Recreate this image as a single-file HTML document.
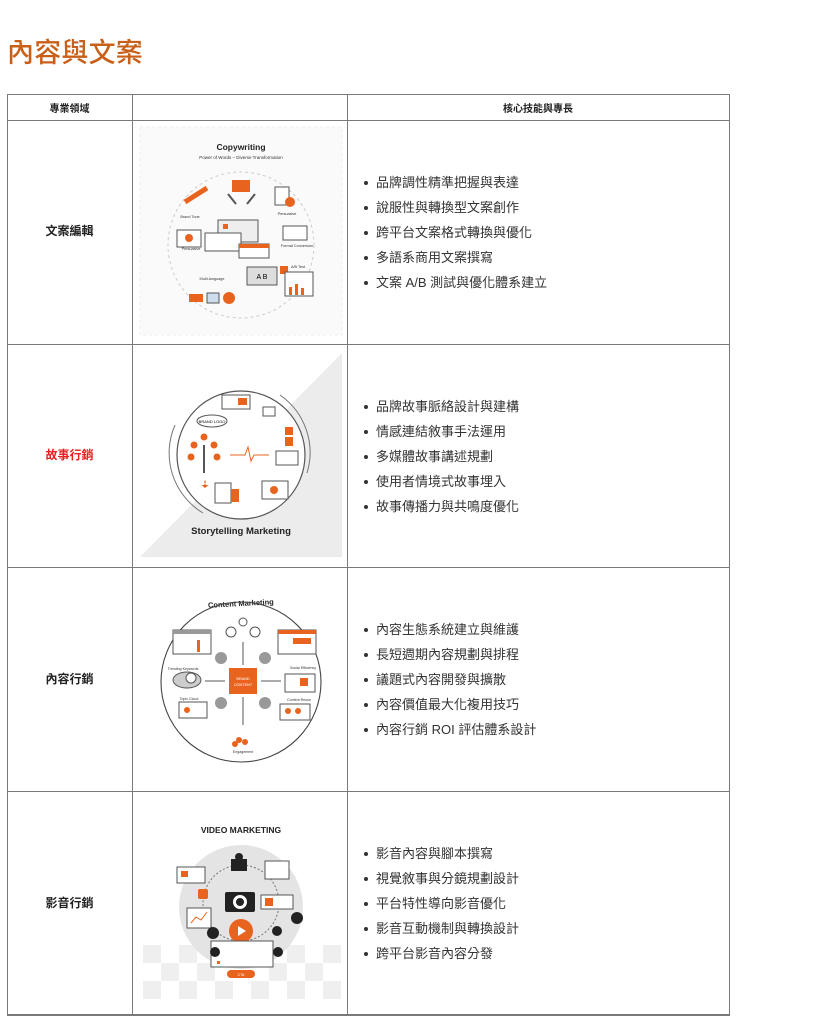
<!DOCTYPE html>
<html><head><meta charset="utf-8">
<style>
*{margin:0;padding:0;box-sizing:border-box}
body{width:820px;height:1024px;background:#fff;position:relative;overflow:hidden;font-family:"Liberation Sans","Noto Sans CJK TC",sans-serif;color:#222}
.t{position:absolute;left:7px;top:31px;font-size:27px;color:#c8601a;font-family:"Liberation Sans","Noto Sans CJK TC",sans-serif;font-weight:500;letter-spacing:0.2px}
.h{position:absolute;background:#7a7a7a}
.lbl{position:absolute;left:7px;width:125px;text-align:center;font-size:12px;font-weight:bold}
.hd{position:absolute;top:100px;font-size:10px;font-weight:bold;text-align:center}
ul{position:absolute;left:362px;list-style:none;font-size:13px;color:#333}
ul li{height:25px;line-height:18px;position:relative;padding-left:14px}
ul li:before{content:"";position:absolute;left:2px;top:7px;width:4px;height:4px;border-radius:50%;background:#333}
svg{position:absolute}
svg text{font-family:"Liberation Sans",sans-serif}
</style></head><body>
<div class="t">內容與文案</div>

<div class="h" style="left:7px;top:94px;width:723px;height:1px"></div>
<div class="h" style="left:7px;top:120px;width:723px;height:1px"></div>
<div class="h" style="left:7px;top:344px;width:723px;height:1px"></div>
<div class="h" style="left:7px;top:567px;width:723px;height:1px"></div>
<div class="h" style="left:7px;top:791px;width:723px;height:1px"></div>
<div class="h" style="left:7px;top:1014px;width:723px;height:2px"></div>
<div class="h" style="left:7px;top:94px;width:1px;height:921px"></div>
<div class="h" style="left:132px;top:94px;width:1px;height:921px"></div>
<div class="h" style="left:347px;top:94px;width:1px;height:921px"></div>
<div class="h" style="left:729px;top:94px;width:1px;height:921px"></div>

<div class="hd" style="left:7px;width:125px">專業領域</div>
<div class="hd" style="left:347px;width:382px">核心技能與專長</div>

<div class="lbl" style="top:222px">文案編輯</div>
<div class="lbl" style="top:446px;color:#e8201e">故事行銷</div>
<div class="lbl" style="top:670px">內容行銷</div>
<div class="lbl" style="top:894px">影音行銷</div>

<ul style="top:174px"><li>品牌調性精準把握與表達</li><li>說服性與轉換型文案創作</li><li>跨平台文案格式轉換與優化</li><li>多語系商用文案撰寫</li><li>文案 A/B 測試與優化體系建立</li></ul>
<ul style="top:398px"><li>品牌故事脈絡設計與建構</li><li>情感連結敘事手法運用</li><li>多媒體故事講述規劃</li><li>使用者情境式故事埋入</li><li>故事傳播力與共鳴度優化</li></ul>
<ul style="top:621px"><li>內容生態系統建立與維護</li><li>長短週期內容規劃與排程</li><li>議題式內容開發與擴散</li><li>內容價值最大化複用技巧</li><li>內容行銷 ROI 評估體系設計</li></ul>
<ul style="top:845px"><li>影音內容與腳本撰寫</li><li>視覺敘事與分鏡規劃設計</li><li>平台特性導向影音優化</li><li>影音互動機制與轉換設計</li><li>跨平台影音內容分發</li></ul>

<svg style="left:135px;top:122px" width="212" height="222" viewBox="0 0 212 222">
<rect x="5" y="5" width="202" height="208" fill="#fafafa" stroke="#eee" stroke-dasharray="3 3"/>
<text x="106" y="28" font-size="8.5" font-weight="bold" text-anchor="middle" fill="#222">Copywriting</text>
<text x="106" y="37" font-size="4.5" text-anchor="middle" fill="#333">Power of Words – Diverse Transformation</text>
<circle cx="106" cy="123" r="73" fill="none" stroke="#ccc" stroke-dasharray="3 3"/>
<rect x="97" y="58" width="18" height="12" fill="#e8641e"/>
<path d="M93 72 l8 10 M120 72 l-8 10" stroke="#555" stroke-width="2"/>
<path d="M50 80 l22 -14" stroke="#e8641e" stroke-width="5"/>
<rect x="140" y="65" width="14" height="18" fill="#fff" stroke="#555"/><circle cx="155" cy="80" r="5" fill="#e8641e"/>
<rect x="83" y="98" width="40" height="22" fill="#eee" stroke="#555"/><rect x="88" y="102" width="5" height="5" fill="#e8641e"/>
<rect x="70" y="111" width="36" height="18" fill="#fff" stroke="#555"/>
<rect x="104" y="122" width="30" height="14" fill="#fff" stroke="#555"/><rect x="104" y="122" width="30" height="4" fill="#e8641e"/>
<rect x="42" y="108" width="24" height="17" fill="#fff" stroke="#555"/><circle cx="54" cy="116" r="4" fill="#e8641e"/>
<rect x="148" y="104" width="24" height="14" fill="#fff" stroke="#555"/>
<rect x="112" y="145" width="30" height="18" fill="#ddd" stroke="#555"/><text x="127" y="157" font-size="7" text-anchor="middle">A  B</text>
<rect x="145" y="144" width="8" height="8" fill="#e8641e"/>
<rect x="150" y="150" width="28" height="24" fill="#fff" stroke="#555"/>
<rect x="154" y="165" width="3" height="8" fill="#e8641e"/><rect x="160" y="162" width="3" height="11" fill="#e8641e"/><rect x="166" y="166" width="3" height="7" fill="#e8641e"/>
<rect x="54" y="172" width="14" height="8" fill="#e8641e"/><rect x="72" y="171" width="12" height="10" fill="#cde" stroke="#555"/><circle cx="94" cy="176" r="6" fill="#e8641e"/>
<g font-size="3.8" fill="#333" text-anchor="middle"><text x="55" y="96">Brand Tone</text><text x="56" y="128">Persuasive</text><text x="152" y="93">Persuasive</text><text x="162" y="125">Format Conversion</text><text x="77" y="158">Multi-language</text><text x="163" y="146">A/B Test</text></g>
</svg>

<svg style="left:135px;top:345px" width="212" height="222" viewBox="0 0 212 222">
<polygon points="5,212 207,8 207,212" fill="#ececec"/>
<circle cx="106" cy="110" r="64" fill="#fff" stroke="#555" stroke-width="1.2"/>
<path d="M40 80 A70 70 0 0 0 68 168 M145 50 A70 70 0 0 1 172 128" fill="none" stroke="#777"/>
<rect x="87" y="50" width="28" height="14" fill="#fff" stroke="#555"/><rect x="103" y="53" width="9" height="7" fill="#e8641e"/>
<ellipse cx="77" cy="76" rx="15" ry="6" fill="#fff" stroke="#555"/><text x="77" y="78" font-size="4" text-anchor="middle">BRAND LOGO</text>
<line x1="69" y1="128" x2="69" y2="100" stroke="#555" stroke-width="2"/>
<g fill="#e8641e"><circle cx="69" cy="92" r="3.5"/><circle cx="59" cy="100" r="3.5"/><circle cx="79" cy="100" r="3.5"/><circle cx="56" cy="112" r="3.5"/><circle cx="82" cy="112" r="3.5"/></g>
<path d="M95 110 h15 l3 -8 l3 14 l3 -6 h15" fill="none" stroke="#e8641e"/>
<rect x="128" y="62" width="12" height="9" fill="#fff" stroke="#555"/><rect x="150" y="82" width="8" height="8" fill="#e8641e"/><rect x="150" y="92" width="8" height="9" fill="#e8641e"/>
<rect x="141" y="106" width="22" height="14" fill="#fff" stroke="#555"/>
<path d="M70 140 l5 -4 a3 3 0 0 1 -5 -4 a3 3 0 0 1 -5 4 z" fill="#e8641e" transform="translate(0,3)"/>
<rect x="80" y="138" width="16" height="20" fill="#fff" stroke="#555"/><rect x="96" y="144" width="8" height="13" fill="#e8641e"/>
<rect x="127" y="136" width="26" height="18" fill="#fff" stroke="#555"/><circle cx="139" cy="145" r="4" fill="#e8641e"/>
<text x="106" y="189" font-size="9.5" font-weight="bold" text-anchor="middle" fill="#222">Storytelling Marketing</text>
</svg>

<svg style="left:135px;top:570px" width="212" height="220" viewBox="0 0 212 220">
<text x="106" y="36" font-size="7.5" font-weight="bold" text-anchor="middle" fill="#222" transform="rotate(-3 106 36)">Content Marketing</text>
<circle cx="106" cy="112" r="80" fill="none" stroke="#444" stroke-width="1.1"/>
<rect x="94" y="98" width="28" height="26" fill="#e8641e"/>
<text x="108" y="110" font-size="3.8" text-anchor="middle" fill="#fff">BRAND</text><text x="108" y="116" font-size="3.8" text-anchor="middle" fill="#fff">CONTENT</text>
<g stroke="#555" fill="none"><line x1="108" y1="95" x2="108" y2="72"/><line x1="108" y1="127" x2="108" y2="155"/><line x1="90" y1="111" x2="70" y2="111"/><line x1="126" y1="111" x2="146" y2="111"/></g>
<g fill="#999"><circle cx="86" cy="88" r="6"/><circle cx="130" cy="88" r="6"/><circle cx="86" cy="133" r="6"/><circle cx="130" cy="133" r="6"/></g>
<rect x="38" y="60" width="38" height="24" fill="#fff" stroke="#555"/><rect x="38" y="60" width="38" height="4" fill="#999"/><rect x="62" y="70" width="3" height="12" fill="#e8641e"/>
<rect x="143" y="60" width="38" height="24" fill="#fff" stroke="#555"/><rect x="143" y="60" width="38" height="4" fill="#e8641e"/><rect x="158" y="68" width="18" height="6" fill="#e8641e"/>
<ellipse cx="52" cy="110" rx="14" ry="8" fill="#ccc" stroke="#555"/><circle cx="56" cy="108" r="5" fill="#fff" stroke="#555"/>
<rect x="150" y="104" width="30" height="18" fill="#fff" stroke="#555"/><rect x="165" y="108" width="8" height="8" fill="#e8641e"/>
<rect x="44" y="132" width="28" height="16" fill="#fff" stroke="#555"/><circle cx="52" cy="140" r="3" fill="#e8641e"/>
<rect x="145" y="134" width="30" height="16" fill="#fff" stroke="#555"/><circle cx="153" cy="141" r="3" fill="#e8641e"/><circle cx="163" cy="141" r="3" fill="#e8641e"/>
<g fill="#e8641e"><circle cx="104" cy="170" r="3"/><circle cx="110" cy="172" r="3"/><circle cx="100" cy="174" r="3"/></g>
<circle cx="108" cy="52" r="4" fill="none" stroke="#555"/><circle cx="96" cy="62" r="5" fill="none" stroke="#555"/><circle cx="120" cy="62" r="5" fill="none" stroke="#555"/>
<g font-size="3.6" fill="#333" text-anchor="middle"><text x="48" y="100">Trending Keywords</text><text x="168" y="99">Social Efficiency</text><text x="54" y="130">Topic Cloud</text><text x="164" y="131">Content Reuse</text><text x="108" y="183">Engagement</text></g>
</svg>

<svg style="left:135px;top:795px" width="212" height="220" viewBox="0 0 212 220">
<g fill="#efefef">
<rect x="8" y="150" width="18" height="18"/><rect x="44" y="150" width="18" height="18"/><rect x="80" y="150" width="18" height="18"/><rect x="152" y="150" width="18" height="18"/><rect x="188" y="150" width="18" height="18"/>
<rect x="26" y="168" width="18" height="18"/><rect x="62" y="168" width="18" height="18"/><rect x="134" y="168" width="18" height="18"/><rect x="170" y="168" width="18" height="18"/>
<rect x="8" y="186" width="18" height="18"/><rect x="44" y="186" width="18" height="18"/><rect x="80" y="186" width="18" height="18"/><rect x="116" y="186" width="18" height="18"/><rect x="152" y="186" width="18" height="18"/><rect x="188" y="186" width="18" height="18"/>
</g>
<text x="106" y="38" font-size="8.5" font-weight="bold" text-anchor="middle" fill="#222">VIDEO MARKETING</text>
<circle cx="106" cy="112" r="62" fill="#e4e4e4"/>
<circle cx="106" cy="108" r="38" fill="none" stroke="#777" stroke-dasharray="2 2"/>
<rect x="96" y="64" width="16" height="12" fill="#222"/><circle cx="104" cy="62" r="4" fill="#222"/>
<rect x="90" y="97" width="30" height="20" rx="2" fill="#222"/><circle cx="105" cy="107" r="7" fill="#fff"/><circle cx="105" cy="107" r="4" fill="#222"/>
<circle cx="106" cy="136" r="12" fill="#e8641e"/><polygon points="103,131 103,141 111,136" fill="#fff"/>
<rect x="76" y="146" width="62" height="26" fill="#fff" stroke="#555"/><rect x="82" y="166" width="3" height="3" fill="#e8641e"/>
<rect x="42" y="72" width="28" height="16" fill="#fff" stroke="#555"/><rect x="46" y="76" width="7" height="6" fill="#e8641e"/>
<rect x="63" y="94" width="10" height="10" rx="2" fill="#e8641e"/>
<rect x="130" y="66" width="24" height="18" fill="#fff" stroke="#555"/>
<rect x="126" y="100" width="32" height="14" fill="#fff" stroke="#555"/><rect x="130" y="103" width="8" height="8" fill="#e8641e"/>
<rect x="52" y="113" width="24" height="20" fill="#fff" stroke="#555"/><path d="M56 128 l5 -6 l5 3 l6 -8" stroke="#e8641e" fill="none"/>
<g fill="#222"><circle cx="162" cy="123" r="6"/><circle cx="78" cy="138" r="6"/><circle cx="142" cy="136" r="5"/><circle cx="80" cy="157" r="5"/><circle cx="143" cy="157" r="5"/></g>
<rect x="92" y="175" width="28" height="8" rx="4" fill="#e8641e"/><text x="106" y="181" font-size="3.5" text-anchor="middle" fill="#fff">CTA</text>
</svg>
</body></html>
